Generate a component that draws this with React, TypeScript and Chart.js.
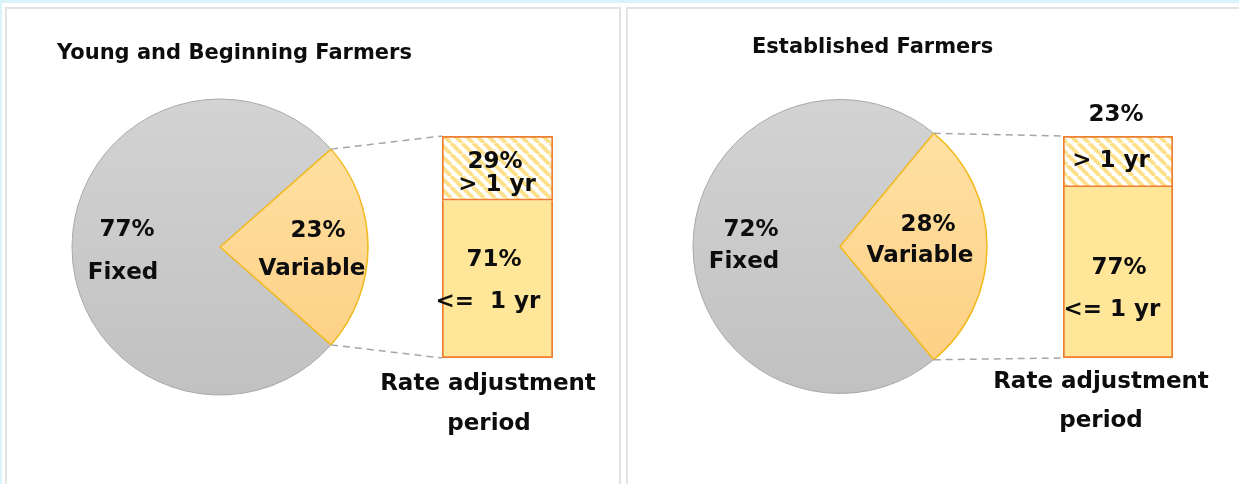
import React, { useEffect, useRef } from 'react';
import { Chart, registerables } from 'chart.js';

Chart.register(...registerables);

const W = 1239;
const H = 484;

// ---------- data ----------
const panelTitles = ['Young and Beginning Farmers', 'Established Farmers'];
const rateTypes = ['Fixed', 'Variable'];
const youngRateShares = [77, 23];
const establishedRateShares = [72, 28];
const youngPeriodLabels = ['<=  1 yr', '> 1 yr'];
const establishedPeriodLabels = ['<= 1 yr', '> 1 yr'];
const youngPeriodShares = [71, 29];
const establishedPeriodShares = [77, 23];
const barCaption = ['Rate adjustment', 'period'];

// ---------- layout / style ----------
const LABEL_FONT = 'bold 23px "DejaVu Sans"';
const TITLE_FONT = 'bold 21px "DejaVu Sans"';
const TEXT_COLOR = '#0d0d0d';

type Pt = [number, number];
interface PanelLayout {
  box: { left: number; width: number };
  title: Pt;
  pie: { cx: number; cy: number; r: number };
  bar: { left: number; right: number; top: number; bottom: number };
  pieText: [Pt, Pt][]; // per rate type: [percent, name]
  barText: [Pt, Pt][]; // per period: [percent, label]
  caption: Pt[];
}

const layouts: PanelLayout[] = [
  {
    box: { left: 5, width: 616 },
    title: [57, 59],
    pie: { cx: 220, cy: 247, r: 148 },
    bar: { left: 442, right: 553, top: 136, bottom: 358 },
    pieText: [
      [[127, 230], [123, 273]],
      [[318, 231], [312, 269]],
    ],
    barText: [
      [[494, 260], [488, 302]],
      [[495, 162], [497, 185]],
    ],
    caption: [[488, 384], [489, 424]],
  },
  {
    box: { left: 626, width: 620 },
    title: [752, 53],
    pie: { cx: 840, cy: 246.5, r: 147 },
    bar: { left: 1063, right: 1173, top: 136, bottom: 358 },
    pieText: [
      [[751, 230], [744, 262]],
      [[928, 225], [920, 256]],
    ],
    barText: [
      [[1119, 268], [1112, 310]],
      [[1116, 115], [1111, 161]],
    ],
    caption: [[1101, 382], [1101, 421]],
  },
];

const panelData = [
  {
    title: panelTitles[0],
    rateShares: youngRateShares,
    periodLabels: youngPeriodLabels,
    periodShares: youngPeriodShares,
  },
  {
    title: panelTitles[1],
    rateShares: establishedRateShares,
    periodLabels: establishedPeriodLabels,
    periodShares: establishedPeriodShares,
  },
];

function makeHatch(): CanvasPattern | string {
  const size = 11;
  const c = document.createElement('canvas');
  c.width = size;
  c.height = size;
  const g = c.getContext('2d');
  if (!g) return '#ffffff';
  g.fillStyle = '#ffffff';
  g.fillRect(0, 0, size, size);
  g.strokeStyle = '#ffe08a';
  g.lineWidth = 4;
  g.beginPath();
  for (const k of [-size, 0, size]) {
    g.moveTo(k, 0);
    g.lineTo(k + size, size);
  }
  g.stroke();
  const p = g.createPattern(c, 'repeat');
  return p || '#ffe699';
}

function drawText(ctx: CanvasRenderingContext2D, text: string, p: Pt) {
  ctx.fillText(text, p[0], p[1]);
}

export default function App() {
  const pieRefs = [useRef<HTMLCanvasElement>(null), useRef<HTMLCanvasElement>(null)];
  const barRefs = [useRef<HTMLCanvasElement>(null), useRef<HTMLCanvasElement>(null)];

  useEffect(() => {
    const charts: Chart[] = [];
    const hatch = makeHatch();

    panelData.forEach((pd, i) => {
      const L = layouts[i];
      const pieCanvas = pieRefs[i].current;
      const barCanvas = barRefs[i].current;
      if (!pieCanvas || !barCanvas) return;

      const { cx, cy, r } = L.pie;
      const variableShare = pd.rateShares[1];

      const pieTextPlugin = {
        id: 'pieText' + i,
        afterDraw(chart: any) {
          const ctx: CanvasRenderingContext2D = chart.ctx;
          ctx.save();
          ctx.fillStyle = TEXT_COLOR;
          ctx.font = TITLE_FONT;
          ctx.textAlign = 'left';
          ctx.textBaseline = 'alphabetic';
          drawText(ctx, pd.title, L.title);
          ctx.font = LABEL_FONT;
          ctx.textAlign = 'center';
          ctx.textBaseline = 'middle';
          pd.rateShares.forEach((v, k) => {
            drawText(ctx, v + '%', L.pieText[k][0]);
            drawText(ctx, rateTypes[k], L.pieText[k][1]);
          });
          ctx.restore();
        },
      };

      const pie = new Chart(pieCanvas, {
        type: 'pie',
        data: {
          labels: rateTypes,
          datasets: [
            {
              data: pd.rateShares,
              backgroundColor: (c: any) => {
                const area = c.chart.chartArea;
                if (!area) return c.dataIndex === 0 ? '#cccccc' : '#fed998';
                const g = c.chart.ctx.createLinearGradient(0, area.top, 0, area.bottom);
                if (c.dataIndex === 0) {
                  g.addColorStop(0, '#d3d3d3');
                  g.addColorStop(1, '#c1c1c1');
                } else {
                  g.addColorStop(0, '#ffe3a8');
                  g.addColorStop(1, '#fdce80');
                }
                return g;
              },
              borderColor: ['#a9a9a9', '#f2b91c'],
              borderWidth: [1, 1.5],
              hoverOffset: 0,
              radius: r,
            } as any,
          ],
        },
        options: {
          responsive: false,
          animation: false,
          events: [],
          rotation: 90 + variableShare * 1.8,
          layout: {
            padding: { left: cx - r, top: cy - r, right: W - (cx + r), bottom: H - (cy + r) },
          },
          plugins: {
            legend: { display: false },
            tooltip: { enabled: false },
            title: { display: false },
          },
        } as any,
        plugins: [pieTextPlugin],
      });
      charts.push(pie);

      const connectorPlugin = {
        id: 'connector' + i,
        beforeDatasetsDraw(chart: any) {
          const arc: any = pie.getDatasetMeta(0).data[1];
          if (!arc) return;
          const { x, y, startAngle, endAngle, outerRadius } = arc.getProps(
            ['x', 'y', 'startAngle', 'endAngle', 'outerRadius'],
            true
          );
          const lower: any = chart.getDatasetMeta(0).data[0];
          const upper: any = chart.getDatasetMeta(1).data[0];
          const left = upper.x - upper.width / 2;
          const ctx: CanvasRenderingContext2D = chart.ctx;
          ctx.save();
          ctx.setLineDash([7, 5]);
          ctx.strokeStyle = '#a6a6a6';
          ctx.lineWidth = 1.5;
          ctx.beginPath();
          ctx.moveTo(x + outerRadius * Math.cos(startAngle), y + outerRadius * Math.sin(startAngle));
          ctx.lineTo(left, upper.y);
          ctx.moveTo(x + outerRadius * Math.cos(endAngle), y + outerRadius * Math.sin(endAngle));
          ctx.lineTo(left, lower.base);
          ctx.stroke();
          ctx.restore();
        },
        afterDraw(chart: any) {
          const ctx: CanvasRenderingContext2D = chart.ctx;
          ctx.save();
          ctx.fillStyle = TEXT_COLOR;
          ctx.font = LABEL_FONT;
          ctx.textAlign = 'center';
          ctx.textBaseline = 'middle';
          pd.periodShares.forEach((v, k) => {
            drawText(ctx, v + '%', L.barText[k][0]);
            drawText(ctx, pd.periodLabels[k], L.barText[k][1]);
          });
          barCaption.forEach((t, k) => drawText(ctx, t, L.caption[k]));
          ctx.restore();
        },
      };

      const bar = new Chart(barCanvas, {
        type: 'bar',
        data: {
          labels: [barCaption.join(' ')],
          datasets: [
            {
              label: pd.periodLabels[0],
              data: [pd.periodShares[0]],
              backgroundColor: '#ffe699',
              borderColor: '#ed7d31',
              borderWidth: 2,
              borderSkipped: 'top',
            },
            {
              label: pd.periodLabels[1],
              data: [pd.periodShares[1]],
              backgroundColor: hatch as any,
              borderColor: '#ed7d31',
              borderWidth: 2,
              borderSkipped: false,
            },
          ],
        },
        options: {
          responsive: false,
          animation: false,
          events: [],
          layout: {
            padding: {
              left: L.bar.left,
              right: W - L.bar.right,
              top: L.bar.top,
              bottom: H - L.bar.bottom,
            },
          },
          datasets: { bar: { barPercentage: 1, categoryPercentage: 1 } },
          scales: {
            x: { display: false, stacked: true },
            y: { display: false, stacked: true, min: 0, max: 100 },
          },
          plugins: {
            legend: { display: false },
            tooltip: { enabled: false },
            title: { display: false },
          },
        } as any,
        plugins: [connectorPlugin],
      });
      charts.push(bar);
    });

    return () => charts.forEach((c) => c.destroy());
  }, []);

  const canvasStyle: React.CSSProperties = { position: 'absolute', left: 0, top: 0 };

  return (
    <div
      style={{
        position: 'absolute',
        left: 0,
        top: 0,
        width: W,
        height: H,
        overflow: 'hidden',
        background: '#ffffff',
      }}
    >
      <div style={{ position: 'absolute', left: 0, top: 0, width: W, height: 3, background: '#d8f4fa' }} />
      <div style={{ position: 'absolute', left: 0, top: 0, width: 2, height: H, background: '#d8f4fa' }} />
      {layouts.map((L, i) => (
        <div
          key={'panel' + i}
          style={{
            position: 'absolute',
            left: L.box.left,
            top: 7,
            width: L.box.width,
            height: H + 20,
            border: '2px solid #e3e3e3',
            boxSizing: 'border-box',
          }}
        />
      ))}
      {[0, 1].map((i) => (
        <canvas key={'pie' + i} ref={pieRefs[i]} width={W} height={H} style={canvasStyle} />
      ))}
      {[0, 1].map((i) => (
        <canvas key={'bar' + i} ref={barRefs[i]} width={W} height={H} style={canvasStyle} />
      ))}
    </div>
  );
}
